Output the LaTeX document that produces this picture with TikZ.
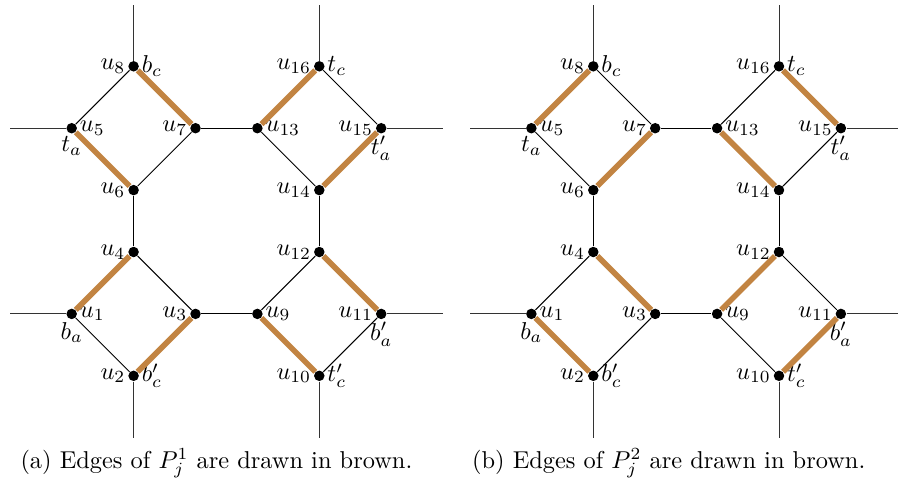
\documentclass[tikz,border=0pt]{standalone}
\definecolor{pathbrown}{RGB}{194,132,66}
\tikzset{
  dot/.style={circle,fill=black,inner sep=0pt,minimum size=4.3pt},
  every label/.style={inner sep=0.8pt},
  thinedge/.style={line width=0.4pt,black},
  pathedge/.style={line width=2.3pt,pathbrown},
  stub/.style={line width=0.4pt,black!80},
  captiontext/.style={anchor=base,inner sep=0pt}
}
\newcommand\placepanel[2]{%
  \begin{scope}[xshift={#2*0.41pt}]
    \node[dot,label={left:$u_8$},label={right:$b_c$}] (#1u8) at (133.6,66.3) {};
    \node[dot,label={right:$u_5$},label={below:$t_a$}] (#1u5) at (71.7,128.2) {};
    \node[dot,label={left:$u_7$}] (#1u7) at (195.5,128.2) {};
    \node[dot,label={left:$u_6$}] (#1u6) at (133.6,190.1) {};
    \node[dot,label={left:$u_{16}$},label={right:$t_c$}] (#1u16) at (319.3,66.3) {};
    \node[dot,label={right:$u_{13}$}] (#1u13) at (257.4,128.2) {};
    \node[dot,label={left:$u_{15}$},label={below:$t'_a$}] (#1u15) at (381.2,128.2) {};
    \node[dot,label={left:$u_{14}$}] (#1u14) at (319.3,190.1) {};
    \node[dot,label={left:$u_4$}] (#1u4) at (133.6,252) {};
    \node[dot,label={right:$u_1$},label={below:$b_a$}] (#1u1) at (71.7,313.9) {};
    \node[dot,label={left:$u_3$}] (#1u3) at (195.5,313.9) {};
    \node[dot,label={left:$u_2$},label={right:$b'_c$}] (#1u2) at (133.6,375.8) {};
    \node[dot,label={left:$u_{12}$}] (#1u12) at (319.3,252) {};
    \node[dot,label={right:$u_9$}] (#1u9) at (257.4,313.9) {};
    \node[dot,label={left:$u_{11}$},label={below:$b'_a$}] (#1u11) at (381.2,313.9) {};
    \node[dot,label={left:$u_{10}$},label={right:$t'_c$}] (#1u10) at (319.3,375.8) {};
    \coordinate (#1s8) at (133.6,5);
    \coordinate (#1s16) at (319.3,5);
    \coordinate (#1s5) at (10,128.2);
    \coordinate (#1s1) at (10,313.9);
    \coordinate (#1s15) at (443,128.2);
    \coordinate (#1s11) at (443,313.9);
    \coordinate (#1s2) at (133.6,437.7);
    \coordinate (#1s10) at (319.3,437.7);
  \end{scope}
  \draw[stub] (#1u8) -- (#1s8);
  \draw[stub] (#1u16) -- (#1s16);
  \draw[stub] (#1u5) -- (#1s5);
  \draw[stub] (#1u1) -- (#1s1);
  \draw[stub] (#1u15) -- (#1s15);
  \draw[stub] (#1u11) -- (#1s11);
  \draw[stub] (#1u2) -- (#1s2);
  \draw[stub] (#1u10) -- (#1s10);
  \draw[thinedge] (#1u7) -- (#1u13);
  \draw[thinedge] (#1u3) -- (#1u9);
  \draw[thinedge] (#1u6) -- (#1u4);
  \draw[thinedge] (#1u14) -- (#1u12);
}
\begin{document}
\begin{tikzpicture}[x=0.41pt,y=-0.41pt]
  \useasboundingbox (0,0) rectangle (898,487);
  % panel (a)
  \placepanel{a}{0}
  \draw[thinedge] (au8) -- (au5);
  \draw[pathedge] (au8) -- (au7);
  \draw[pathedge] (au5) -- (au6);
  \draw[thinedge] (au6) -- (au7);
  \draw[pathedge] (au16) -- (au13);
  \draw[thinedge] (au16) -- (au15);
  \draw[thinedge] (au13) -- (au14);
  \draw[pathedge] (au14) -- (au15);
  \draw[pathedge] (au4) -- (au1);
  \draw[thinedge] (au4) -- (au3);
  \draw[thinedge] (au1) -- (au2);
  \draw[pathedge] (au2) -- (au3);
  \draw[thinedge] (au12) -- (au9);
  \draw[pathedge] (au12) -- (au11);
  \draw[pathedge] (au9) -- (au10);
  \draw[thinedge] (au10) -- (au11);
  \node[captiontext] (capa) at (216.4,468) {(a) Edges of $P_j^1$ are drawn in brown.};
  % panel (b)
  \placepanel{b}{459.7}
  \draw[pathedge] (bu8) -- (bu5);
  \draw[thinedge] (bu8) -- (bu7);
  \draw[thinedge] (bu5) -- (bu6);
  \draw[pathedge] (bu6) -- (bu7);
  \draw[thinedge] (bu16) -- (bu13);
  \draw[pathedge] (bu16) -- (bu15);
  \draw[pathedge] (bu13) -- (bu14);
  \draw[thinedge] (bu14) -- (bu15);
  \draw[thinedge] (bu4) -- (bu1);
  \draw[pathedge] (bu4) -- (bu3);
  \draw[pathedge] (bu1) -- (bu2);
  \draw[thinedge] (bu2) -- (bu3);
  \draw[pathedge] (bu12) -- (bu9);
  \draw[thinedge] (bu12) -- (bu11);
  \draw[thinedge] (bu9) -- (bu10);
  \draw[pathedge] (bu10) -- (bu11);
  \node[captiontext] (capb) at (668.7,468) {(b) Edges of $P_j^2$ are drawn in brown.};
\end{tikzpicture}
\end{document}
